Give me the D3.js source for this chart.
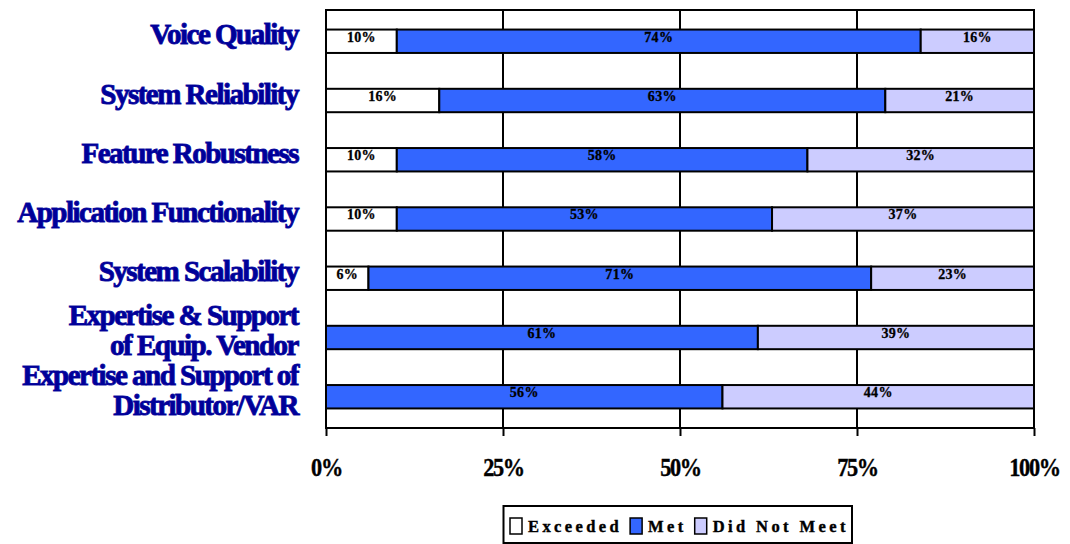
<!DOCTYPE html>
<html>
<head>
<meta charset="utf-8">
<script src="https://cdn.jsdelivr.net/npm/d3@7"></script>
<style>
  html, body { margin: 0; padding: 0; background: #fff; }
  svg { display: block; }
  .cat { font-family: "Liberation Serif", "Times New Roman", serif; font-weight: bold; font-size: 29px; letter-spacing: -1.5px; fill: #000099; stroke: #1a1aa6; stroke-width: 1px; paint-order: stroke; }
  .val { font-family: "Liberation Serif", "Times New Roman", serif; font-weight: bold; font-size: 14px; fill: #000; letter-spacing: 0.3px; stroke: #000; stroke-width: 0.3px; }
  .tick text { font-family: "Liberation Serif", "Times New Roman", serif; font-weight: bold; font-size: 26px; letter-spacing: -1.6px; fill: #000; stroke: #000; stroke-width: 0.4px; }
  .leg { font-family: "Liberation Serif", "Times New Roman", serif; font-weight: bold; font-size: 16.5px; letter-spacing: 3.4px; fill: #000; stroke: #000; stroke-width: 0.4px; }
</style>
</head>
<body>
<svg id="chart" width="1070" height="544"></svg>
<script>
// Survey categories (line breaks mark two-line labels)
const categories = [
  "Voice Quality",
  "System Reliability",
  "Feature Robustness",
  "Application Functionality",
  "System Scalability",
  "Expertise & Support\nof Equip. Vendor",
  "Expertise and Support of\nDistributor/VAR"
];

// Share of responses per rating, in percent
const exceeded   = [10, 16, 10, 10, 6, 0, 0];
const met        = [74, 63, 58, 53, 71, 61, 56];
const didNotMeet = [16, 21, 32, 37, 23, 39, 44];

const seriesNames  = ["Exceeded", "Met", "Did Not Meet"];
const seriesColors = ["#ffffff", "#3366ff", "#ccccff"];
const xTicks = [0, 25, 50, 75, 100];

const svg = d3.select("#chart");
const plot = { left: 326, right: 1034, top: 10, bottom: 428 };

const x = d3.scaleLinear().domain([0, 100]).range([plot.left, plot.right]);
const y = d3.scaleBand().domain(categories).range([plot.top, plot.bottom])
  .paddingInner(0.605).paddingOuter(0.33);

const rows = categories.map((c, i) => ({
  cat: c, "Exceeded": exceeded[i], "Met": met[i], "Did Not Meet": didNotMeet[i]
}));
const stacked = d3.stack().keys(seriesNames)(rows);

// vertical gridlines behind the bars
svg.append("g").selectAll("line").data(xTicks.slice(1, -1)).join("line")
  .attr("x1", d => x(d)).attr("x2", d => x(d))
  .attr("y1", plot.top).attr("y2", plot.bottom)
  .attr("stroke", "#000").attr("stroke-width", 2);

// plot frame
svg.append("rect")
  .attr("x", plot.left).attr("y", plot.top)
  .attr("width", plot.right - plot.left).attr("height", plot.bottom - plot.top)
  .attr("fill", "none").attr("stroke", "#000").attr("stroke-width", 2);

// stacked bars
const layers = svg.append("g").selectAll("g").data(stacked).join("g")
  .attr("fill", (d, i) => seriesColors[i]);

layers.selectAll("rect").data(d => d.filter(s => s[1] - s[0] > 0)).join("rect")
  .attr("x", d => x(d[0]))
  .attr("y", d => y(d.data.cat))
  .attr("width", d => x(d[1]) - x(d[0]))
  .attr("height", y.bandwidth())
  .attr("stroke", "#000").attr("stroke-width", 2);

// value labels near the top of each segment
layers.selectAll("text").data(d => d.filter(s => s[1] - s[0] > 0)).join("text")
  .attr("class", "val")
  .attr("x", d => (x(d[0]) + x(d[1])) / 2)
  .attr("y", d => y(d.data.cat) + 12)
  .attr("text-anchor", "middle")
  .text(d => (d[1] - d[0]) + "%");

// bottom axis
const xAxis = d3.axisBottom(x).tickValues(xTicks).tickFormat(d => d + "%")
  .tickSize(8).tickPadding(19);
const ax = svg.append("g").attr("transform", `translate(0,${plot.bottom})`).call(xAxis);
ax.select(".domain").remove();
ax.selectAll(".tick line").attr("stroke", "#000").attr("stroke-width", 2);
ax.selectAll(".tick text").attr("dy", "0.8em").attr("transform", "scale(0.86,1)");

// category labels
const catG = svg.append("g");
categories.forEach(c => {
  const lines = c.split("\n");
  const cy = y(c) + y.bandwidth() / 2;
  const lh = 30;
  const t = catG.append("text").attr("class", "cat").attr("text-anchor", "end");
  lines.forEach((ln, j) => {
    t.append("tspan")
      .attr("x", 298)
      .attr("y", cy + 3 + (j - (lines.length - 1) / 2) * lh)
      .text(ln);
  });
});

// legend
const leg = svg.append("g");
leg.append("rect").attr("x", 503.5).attr("y", 506).attr("width", 348.5).attr("height", 37)
  .attr("fill", "#fff").attr("stroke", "#000").attr("stroke-width", 2);
let lx = 510;
seriesNames.forEach((name, i) => {
  leg.append("rect").attr("x", lx).attr("y", 518).attr("width", 12).attr("height", 16)
    .attr("fill", seriesColors[i]).attr("stroke", "#000").attr("stroke-width", 1.5);
  const t = leg.append("text").attr("class", "leg").attr("x", lx + 18).attr("y", 532).text(name);
  lx += 18 + t.node().getComputedTextLength() + 8;
});
</script>
</body>
</html>
